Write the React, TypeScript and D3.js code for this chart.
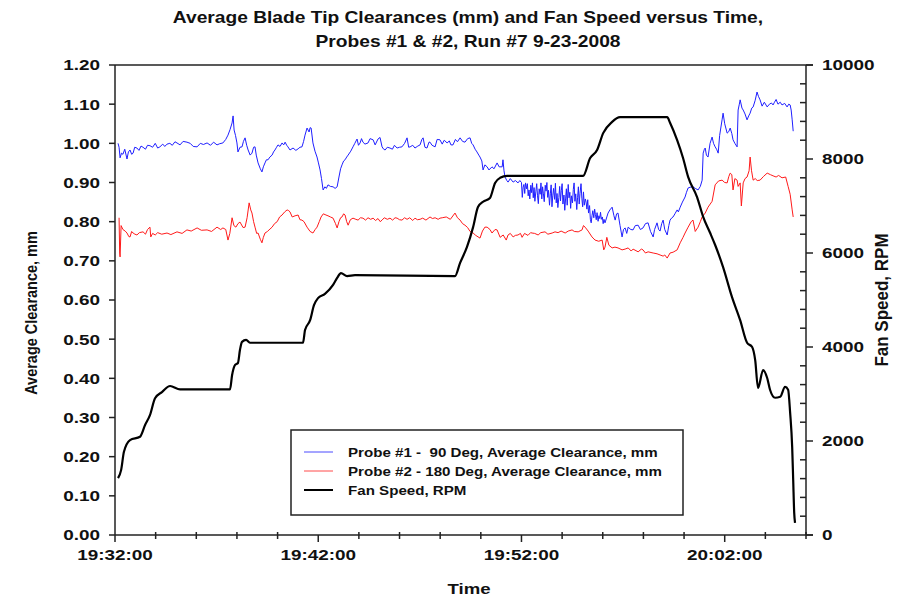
import React from "react";
import * as d3 from "d3";

// Time axis: minutes after 19:32:00 on 9-23-2008
const RUN_START = new Date(2008, 8, 23, 19, 32, 0);
const RUN_END = new Date(2008, 8, 23, 20, 6, 0);
const timeTickMinutes = [0, 10, 20, 30];
const clearanceTicks = [0, 0.1, 0.2, 0.3, 0.4, 0.5, 0.6, 0.7, 0.8, 0.9, 1.0, 1.1, 1.2];
const rpmTicks = [0, 2000, 4000, 6000, 8000, 10000];

const titleLines = [
  "Average Blade Tip Clearances (mm) and Fan Speed versus Time,",
  "Probes #1 & #2, Run #7 9-23-2008",
];
const legendLabels = [
  "Probe #1 -  90 Deg, Average Clearance, mm",
  "Probe #2 - 180 Deg, Average Clearance, mm",
  "Fan Speed, RPM",
];

// [minutes, clearance mm]
const probe1: [number, number][] = [
  [0.15, 1.0], [0.2, 0.99], [0.25, 0.963], [0.32, 0.975], [0.39, 0.972], [0.48, 0.985], [0.59, 0.96], [0.66, 0.978],
  [0.74, 0.983], [0.82, 0.972], [0.89, 0.975], [0.97, 0.99], [1.08, 0.988], [1.18, 0.982], [1.28, 0.993], [1.38, 0.99],
  [1.5, 0.985], [1.6, 0.995], [1.72, 0.994], [1.85, 0.99], [1.98, 1.0], [2.1, 0.988], [2.21, 0.991], [2.35, 0.998],
  [2.45, 0.992], [2.56, 0.998], [2.7, 1.0], [2.82, 0.995], [2.95, 1.004], [3.05, 1.001], [3.2, 0.996], [3.35, 1.005],
  [3.54, 1.003], [3.7, 1.0], [3.85, 0.992], [4.04, 0.991], [4.2, 1.0], [4.35, 0.997], [4.53, 1.001], [4.7, 0.995],
  [4.85, 1.003], [5.02, 0.996], [5.15, 0.999], [5.31, 1.001], [5.45, 1.01], [5.56, 1.021], [5.66, 1.035], [5.76, 1.052],
  [5.81, 1.07], [5.86, 1.034], [5.93, 1.02], [6.0, 1.001], [6.05, 0.978], [6.15, 0.99], [6.25, 0.991], [6.32, 1.005],
  [6.4, 1.014], [6.48, 0.995], [6.55, 0.983], [6.65, 0.97], [6.74, 0.975], [6.82, 0.99], [6.89, 0.991], [6.95, 0.97],
  [7.04, 0.95], [7.15, 0.935], [7.23, 0.927], [7.3, 0.94], [7.38, 0.95], [7.45, 0.958], [7.53, 0.958], [7.62, 0.965],
  [7.73, 0.97], [7.8, 0.978], [7.87, 0.983], [7.95, 0.99], [8.02, 0.996], [8.12, 0.992], [8.22, 1.001], [8.3, 0.996],
  [8.37, 1.003], [8.45, 0.995], [8.51, 0.991], [8.61, 0.983], [8.76, 0.988], [8.9, 0.982], [9.01, 0.986], [9.1, 0.99],
  [9.2, 0.991], [9.28, 1.005], [9.35, 1.021], [9.45, 1.039], [9.55, 1.029], [9.6, 1.04], [9.65, 1.039], [9.74, 1.001],
  [9.84, 0.98], [9.94, 0.965], [10.01, 0.95], [10.09, 0.932], [10.16, 0.91], [10.24, 0.881], [10.33, 0.889], [10.4, 0.885],
  [10.48, 0.894], [10.6, 0.89], [10.73, 0.889], [10.83, 0.885], [10.93, 0.889], [11.02, 0.914], [11.1, 0.935], [11.17, 0.945],
  [11.25, 0.955], [11.32, 0.958], [11.4, 0.965], [11.47, 0.97], [11.6, 0.98], [11.71, 0.991], [11.8, 1.0], [11.91, 1.011],
  [11.98, 0.995], [12.06, 1.001], [12.13, 1.012], [12.2, 1.003], [12.3, 0.998], [12.45, 1.001], [12.55, 1.012], [12.7, 1.009],
  [12.8, 0.996], [12.94, 1.011], [13.04, 1.015], [13.14, 0.991], [13.22, 0.985], [13.29, 0.983], [13.4, 0.99], [13.53, 0.988],
  [13.65, 0.985], [13.75, 0.995], [13.88, 0.988], [14.0, 0.99], [14.12, 0.991], [14.25, 1.0], [14.37, 1.014], [14.45, 0.99],
  [14.52, 0.991], [14.65, 0.995], [14.76, 0.988], [14.9, 0.993], [15.01, 0.996], [15.1, 1.01], [15.16, 1.014], [15.25, 0.99],
  [15.35, 0.988], [15.45, 1.003], [15.5, 1.003], [15.6, 0.995], [15.75, 0.991], [15.85, 1.01], [15.99, 1.009], [16.1, 0.998],
  [16.2, 1.008], [16.34, 1.001], [16.45, 1.006], [16.53, 0.996], [16.63, 0.996], [16.75, 1.01], [16.85, 1.004], [16.98, 1.014],
  [17.1, 1.005], [17.22, 1.003], [17.35, 1.012], [17.47, 1.014], [17.55, 1.0], [17.62, 0.996], [17.72, 0.985], [17.81, 0.978],
  [17.9, 0.97], [17.96, 0.965], [18.05, 0.955], [18.11, 0.932], [18.2, 0.945], [18.31, 0.94], [18.4, 0.932], [18.55, 0.94],
  [18.65, 0.935], [18.8, 0.95], [18.9, 0.94], [19.05, 0.94], [19.09, 0.958], [19.14, 0.93], [19.19, 0.914], [19.28, 0.905],
  [19.34, 0.901], [19.45, 0.91], [19.59, 0.901], [19.7, 0.905], [19.83, 0.899], [19.92, 0.905],
  [20.0, 0.9], [20.04, 0.862], [20.08, 0.888], [20.12, 0.895], [20.16, 0.872], [20.2, 0.899], [20.25, 0.884], [20.29, 0.897],
  [20.33, 0.866], [20.37, 0.881], [20.41, 0.858], [20.46, 0.893], [20.5, 0.874], [20.54, 0.899], [20.58, 0.861], [20.62, 0.887],
  [20.66, 0.852], [20.71, 0.878], [20.75, 0.897], [20.79, 0.866], [20.83, 0.846], [20.87, 0.884], [20.92, 0.87], [20.96, 0.899],
  [21.0, 0.858], [21.04, 0.889], [21.08, 0.871], [21.12, 0.851], [21.17, 0.893], [21.21, 0.878], [21.25, 0.9], [21.29, 0.862],
  [21.33, 0.88], [21.38, 0.842], [21.42, 0.871], [21.46, 0.894], [21.5, 0.838], [21.54, 0.866], [21.58, 0.885], [21.63, 0.857],
  [21.67, 0.898], [21.71, 0.848], [21.75, 0.872], [21.79, 0.836], [21.84, 0.862], [21.88, 0.89], [21.92, 0.853], [21.96, 0.879],
  [22.0, 0.897], [22.04, 0.845], [22.09, 0.868], [22.13, 0.829], [22.17, 0.858], [22.21, 0.884], [22.25, 0.842], [22.3, 0.895],
  [22.34, 0.861], [22.38, 0.875], [22.42, 0.834], [22.46, 0.866], [22.51, 0.848], [22.55, 0.882], [22.59, 0.899], [22.63, 0.852],
  [22.67, 0.871], [22.72, 0.831], [22.76, 0.861], [22.8, 0.889], [22.84, 0.845], [22.88, 0.872], [22.93, 0.897], [22.97, 0.86],
  [23.01, 0.838], [23.05, 0.876], [23.09, 0.842], [23.14, 0.858], [23.18, 0.85], [23.22, 0.832], [23.26, 0.856], [23.3, 0.822],
  [23.35, 0.841], [23.39, 0.806], [23.43, 0.797], [23.47, 0.815], [23.51, 0.828], [23.56, 0.81], [23.6, 0.832], [23.64, 0.818],
  [23.68, 0.805], [23.72, 0.823], [23.77, 0.801], [23.81, 0.815], [23.85, 0.808], [23.89, 0.824], [23.93, 0.806], [23.98, 0.812],
  [24.02, 0.795], [24.06, 0.806], [24.11, 0.797], [24.2, 0.812], [24.26, 0.822], [24.35, 0.83], [24.46, 0.837], [24.55, 0.815],
  [24.61, 0.804], [24.68, 0.82], [24.75, 0.822], [24.85, 0.79], [24.95, 0.761], [25.02, 0.78], [25.1, 0.784], [25.18, 0.77],
  [25.25, 0.786], [25.38, 0.78], [25.49, 0.779], [25.6, 0.79], [25.74, 0.791], [25.85, 0.78], [25.98, 0.784], [26.1, 0.795],
  [26.23, 0.797], [26.35, 0.775], [26.48, 0.761], [26.55, 0.78], [26.67, 0.797], [26.75, 0.78], [26.82, 0.776], [26.9, 0.795],
  [26.97, 0.804], [27.05, 0.78], [27.17, 0.766], [27.25, 0.79], [27.31, 0.804], [27.4, 0.81], [27.46, 0.812], [27.55, 0.82],
  [27.66, 0.83], [27.72, 0.825], [27.81, 0.837], [27.92, 0.85], [28.05, 0.863], [28.12, 0.875], [28.2, 0.886], [28.3, 0.888],
  [28.44, 0.889], [28.55, 0.885], [28.69, 0.881], [28.8, 0.89], [28.89, 0.906], [28.94, 0.975], [29.0, 0.985], [29.04, 0.988],
  [29.1, 0.97], [29.18, 0.965], [29.28, 1.0], [29.38, 1.016], [29.45, 1.0], [29.53, 0.991], [29.6, 0.985], [29.68, 0.975],
  [29.75, 1.02], [29.87, 1.06], [29.92, 1.077], [30.0, 1.05], [30.12, 1.026], [30.2, 1.03], [30.27, 1.039], [30.35, 1.025],
  [30.41, 1.009], [30.5, 1.0], [30.61, 0.991], [30.66, 1.085], [30.72, 1.1], [30.76, 1.111], [30.85, 1.09], [30.91, 1.085],
  [31.0, 1.075], [31.1, 1.06], [31.18, 1.07], [31.25, 1.077], [31.33, 1.09], [31.4, 1.093], [31.5, 1.11], [31.59, 1.131],
  [31.66, 1.12], [31.74, 1.111], [31.84, 1.095], [31.95, 1.105], [32.09, 1.093], [32.2, 1.1], [32.3, 1.103], [32.38, 1.098],
  [32.45, 1.105], [32.53, 1.112], [32.62, 1.1], [32.73, 1.105], [32.82, 1.098], [32.95, 1.102], [33.07, 1.093], [33.15, 1.1],
  [33.22, 1.098], [33.27, 1.085], [33.32, 1.06], [33.37, 1.031],
];

// [minutes, clearance mm]
const probe2: [number, number][] = [
  [0.2, 0.81], [0.23, 0.72], [0.25, 0.71], [0.3, 0.79], [0.39, 0.78], [0.5, 0.776], [0.59, 0.771], [0.68, 0.762],
  [0.74, 0.761], [0.82, 0.775], [0.89, 0.771], [0.98, 0.768], [1.08, 0.766], [1.2, 0.772], [1.38, 0.774], [1.5, 0.768],
  [1.6, 0.78], [1.72, 0.786], [1.76, 0.761], [1.85, 0.77], [1.98, 0.766], [2.1, 0.772], [2.3, 0.768], [2.56, 0.771],
  [2.75, 0.767], [3.05, 0.774], [3.3, 0.77], [3.54, 0.779], [3.75, 0.776], [4.04, 0.784], [4.25, 0.778], [4.53, 0.779],
  [4.75, 0.775], [5.02, 0.786], [5.2, 0.78], [5.31, 0.784], [5.45, 0.78], [5.56, 0.753], [5.65, 0.77], [5.76, 0.81],
  [5.85, 0.79], [5.95, 0.786], [6.05, 0.795], [6.15, 0.799], [6.3, 0.785], [6.4, 0.786], [6.5, 0.81], [6.6, 0.848],
  [6.68, 0.83], [6.74, 0.822], [6.82, 0.8], [6.89, 0.786], [6.97, 0.77], [7.04, 0.771], [7.15, 0.755], [7.23, 0.746],
  [7.3, 0.76], [7.38, 0.771], [7.5, 0.775], [7.58, 0.779], [7.73, 0.786], [7.85, 0.795], [7.98, 0.8], [8.1, 0.812],
  [8.22, 0.817], [8.35, 0.825], [8.47, 0.83], [8.55, 0.828], [8.61, 0.825], [8.72, 0.812], [8.86, 0.815], [9.01, 0.817],
  [9.1, 0.805], [9.2, 0.804], [9.3, 0.8], [9.45, 0.786], [9.6, 0.775], [9.74, 0.771], [9.85, 0.78], [9.94, 0.786],
  [10.05, 0.8], [10.14, 0.812], [10.25, 0.82], [10.38, 0.817], [10.48, 0.815], [10.6, 0.812], [10.73, 0.809], [10.85, 0.795],
  [10.93, 0.784], [11.02, 0.8], [11.1, 0.81], [11.17, 0.812], [11.25, 0.82], [11.32, 0.817], [11.4, 0.8], [11.47, 0.791],
  [11.58, 0.805], [11.71, 0.809], [11.85, 0.806], [11.96, 0.804], [12.08, 0.81], [12.2, 0.809], [12.33, 0.804], [12.45, 0.81],
  [12.58, 0.806], [12.7, 0.809], [12.82, 0.803], [12.94, 0.808], [13.05, 0.8], [13.14, 0.804], [13.25, 0.81], [13.4, 0.806],
  [13.53, 0.809], [13.66, 0.804], [13.78, 0.81], [13.88, 0.809], [14.0, 0.805], [14.12, 0.804], [14.25, 0.81], [14.37, 0.806],
  [14.5, 0.81], [14.65, 0.803], [14.76, 0.809], [14.88, 0.805], [15.01, 0.806], [15.14, 0.809], [15.3, 0.804], [15.5, 0.812],
  [15.62, 0.808], [15.75, 0.81], [15.9, 0.806], [15.99, 0.809], [16.1, 0.81], [16.3, 0.812], [16.5, 0.806], [16.73, 0.822],
  [16.85, 0.81], [16.98, 0.804], [17.1, 0.795], [17.22, 0.791], [17.35, 0.785], [17.47, 0.775], [17.62, 0.771], [17.75, 0.765],
  [17.96, 0.758], [18.08, 0.776], [18.2, 0.786], [18.31, 0.786], [18.45, 0.78], [18.55, 0.771], [18.7, 0.78], [18.8, 0.779],
  [18.95, 0.76], [19.1, 0.766], [19.25, 0.753], [19.34, 0.766], [19.45, 0.77], [19.59, 0.761], [19.7, 0.765], [19.83, 0.766],
  [19.95, 0.77], [20.03, 0.76], [20.15, 0.77], [20.32, 0.765], [20.45, 0.772], [20.52, 0.771], [20.65, 0.77], [20.82, 0.766],
  [20.95, 0.772], [21.16, 0.774], [21.3, 0.768], [21.51, 0.771], [21.65, 0.774], [21.8, 0.772], [21.95, 0.776], [22.15, 0.771],
  [22.3, 0.776], [22.49, 0.779], [22.6, 0.775], [22.79, 0.774], [22.98, 0.779], [23.05, 0.79], [23.13, 0.786], [23.28, 0.776],
  [23.47, 0.761], [23.62, 0.753], [23.8, 0.75], [23.97, 0.753], [24.05, 0.728], [24.11, 0.735], [24.2, 0.76], [24.3, 0.74],
  [24.46, 0.733], [24.6, 0.735], [24.75, 0.733], [24.95, 0.728], [25.1, 0.73], [25.25, 0.733], [25.4, 0.725], [25.49, 0.73],
  [25.74, 0.723], [25.9, 0.73], [25.98, 0.728], [26.1, 0.72], [26.23, 0.723], [26.48, 0.72], [26.67, 0.718], [26.82, 0.715],
  [26.97, 0.712], [27.05, 0.715], [27.17, 0.707], [27.31, 0.72], [27.46, 0.722], [27.66, 0.728], [27.81, 0.746], [27.95, 0.76],
  [28.05, 0.771], [28.2, 0.786], [28.35, 0.8], [28.44, 0.804], [28.55, 0.775], [28.69, 0.786], [28.8, 0.8], [28.89, 0.812],
  [29.04, 0.822], [29.18, 0.837], [29.38, 0.852], [29.53, 0.894], [29.7, 0.904], [29.87, 0.906], [30.0, 0.9], [30.12, 0.899],
  [30.2, 0.915], [30.27, 0.924], [30.35, 0.92], [30.41, 0.881], [30.5, 0.91], [30.61, 0.906], [30.66, 0.89], [30.76, 0.899],
  [30.82, 0.84], [30.91, 0.899], [31.0, 0.91], [31.1, 0.914], [31.2, 0.93], [31.25, 0.965], [31.32, 0.93], [31.4, 0.906],
  [31.5, 0.91], [31.6, 0.905], [31.74, 0.906], [31.9, 0.915], [32.09, 0.924], [32.25, 0.92], [32.38, 0.917], [32.53, 0.914],
  [32.65, 0.918], [32.82, 0.912], [33.0, 0.914], [33.12, 0.89], [33.22, 0.87], [33.32, 0.83], [33.37, 0.812],
];

// [minutes, RPM]
const fanSpeed: [number, number][] = [
  [0.15, 1210], [0.3, 1380], [0.44, 1770], [0.74, 2020], [1.23, 2090], [1.48, 2340], [1.72, 2550], [1.97, 2910],
  [2.31, 3040], [2.71, 3170], [3.2, 3100], [5.66, 3100], [5.76, 3400], [5.91, 3620], [6.05, 3660], [6.15, 3940],
  [6.25, 4110], [6.45, 4150], [6.64, 4090], [9.25, 4090], [9.35, 4360], [9.6, 4570], [9.79, 4890], [9.99, 5040],
  [10.33, 5130], [10.73, 5320], [10.93, 5470], [11.12, 5570], [11.42, 5510], [11.81, 5530], [16.73, 5510], [16.98, 5790],
  [17.32, 6130], [17.62, 6550], [17.86, 6980], [18.11, 7090], [18.45, 7170], [18.7, 7490], [18.95, 7600], [19.29, 7640],
  [23.03, 7640], [23.38, 8020], [23.72, 8190], [24.02, 8550], [24.46, 8790], [24.85, 8890], [27.17, 8890], [27.31, 8770],
  [27.66, 8400], [27.95, 8020], [28.2, 7620], [28.64, 7190], [28.94, 6770], [29.28, 6430], [29.53, 6170], [29.92, 5700],
  [30.36, 5060], [30.76, 4570], [31.1, 4090], [31.35, 4000], [31.5, 3720], [31.64, 3130], [31.89, 3510], [32.09, 3340],
  [32.23, 3090], [32.48, 2920], [32.73, 2940], [32.97, 3150], [33.12, 3090], [33.22, 2600], [33.32, 1870], [33.37, 1170],
  [33.42, 470], [33.46, 260],
];

const W = 903;
const H = 597;
const M = { left: 115, right: 806, top: 65, bottom: 535 };
const FONT = "'Liberation Sans', Arial, Helvetica, sans-serif";

const atMinute = (m: number) => new Date(RUN_START.getTime() + m * 60000);

const x = d3.scaleTime().domain([RUN_START, RUN_END]).range([M.left, M.right]);
const yClr = d3.scaleLinear().domain([0, 1.2]).range([M.bottom, M.top]);
const yRpm = d3.scaleLinear().domain([0, 10000]).range([M.bottom, M.top]);
const fmtTime = d3.timeFormat("%H:%M:%S");

const clrLine = d3
  .line<[number, number]>()
  .x((d) => x(atMinute(d[0])))
  .y((d) => yClr(d[1]));
const rpmLine = d3
  .line<[number, number]>()
  .x((d) => x(atMinute(d[0])))
  .y((d) => yRpm(d[1]))
  .curve(d3.curveMonotoneX);

type TProps = {
  x: number;
  y: number;
  size: number;
  sx?: number;
  anchor?: "start" | "middle" | "end";
  rotate?: boolean;
  baseline?: string;
  children: React.ReactNode;
};

function Label({ x, y, size, sx = 1, anchor = "start", rotate = false, baseline, children }: TProps) {
  return (
    <text
      transform={`translate(${x},${y}) scale(${sx},1)${rotate ? " rotate(-90)" : ""}`}
      fontSize={size}
      fontWeight="bold"
      fontFamily={FONT}
      textAnchor={anchor}
      dominantBaseline={baseline}
      fill="#111"
      xmlSpace="preserve"
      style={{ whiteSpace: "pre" }}
    >
      {children}
    </text>
  );
}

export default function App() {
  const minorTimes = d3.range(0, 35, 2).filter((m) => m % 10 !== 0);
  const minorRpm = d3.range(0, 10001, 400).filter((v) => v % 2000 !== 0);
  const TICK_SX = 1.22;

  return (
    <svg
      width={W}
      height={H}
      viewBox={`0 0 ${W} ${H}`}
      style={{ position: "absolute", left: 0, top: 0, background: "#fff" }}
    >
      <rect width={W} height={H} fill="#fff" />

      {titleLines.map((t, i) => (
        <Label key={t} x={468} y={23 + i * 24} size={16} sx={1.2} anchor="middle">
          {t}
        </Label>
      ))}

      {/* data */}
      <path d={clrLine(probe2) ?? ""} fill="none" stroke="#ff1a1a" strokeWidth={1} />
      <path d={clrLine(probe1) ?? ""} fill="none" stroke="#1f1fff" strokeWidth={1} />
      <path d={rpmLine(fanSpeed) ?? ""} fill="none" stroke="#000" strokeWidth={2.2} strokeLinejoin="round" />

      {/* frame */}
      <g stroke="#222" strokeWidth={1.5} fill="none">
        <line x1={M.left} x2={M.left} y1={M.top} y2={M.bottom} />
        <line x1={M.right} x2={M.right} y1={M.top} y2={M.bottom} />
        <line x1={M.left} x2={M.right + 7} y1={M.top} y2={M.top} />
        <line x1={M.left} x2={M.right + 7} y1={M.bottom} y2={M.bottom} />
      </g>

      {/* left axis */}
      <g stroke="#222" strokeWidth={1.5}>
        {clearanceTicks.map((v) => (
          <line key={v} x1={M.left - 6} x2={M.left} y1={yClr(v)} y2={yClr(v)} />
        ))}
      </g>
      {clearanceTicks.map((v) => (
        <Label key={v} x={100} y={yClr(v)} size={15.5} sx={TICK_SX} anchor="end" baseline="central">
          {v.toFixed(2)}
        </Label>
      ))}

      {/* right axis */}
      <g stroke="#222" strokeWidth={1.5}>
        {rpmTicks.map((v) => (
          <line key={v} x1={M.right} x2={M.right + 7} y1={yRpm(v)} y2={yRpm(v)} />
        ))}
        {minorRpm.map((v) => (
          <line key={v} x1={M.right - 6} x2={M.right} y1={yRpm(v)} y2={yRpm(v)} />
        ))}
      </g>
      {rpmTicks.map((v) => (
        <Label key={v} x={822} y={yRpm(v)} size={15.5} sx={TICK_SX} baseline="central">
          {String(v)}
        </Label>
      ))}

      {/* time axis */}
      <g stroke="#222" strokeWidth={1.5}>
        {timeTickMinutes.map((m) => (
          <line key={m} x1={x(atMinute(m))} x2={x(atMinute(m))} y1={M.bottom} y2={M.bottom + 7} />
        ))}
        {minorTimes.map((m) => (
          <line key={m} x1={x(atMinute(m))} x2={x(atMinute(m))} y1={M.bottom - 3} y2={M.bottom + 4} />
        ))}
      </g>
      {timeTickMinutes.map((m) => (
        <Label key={m} x={x(atMinute(m))} y={560} size={15.5} sx={TICK_SX} anchor="middle">
          {fmtTime(atMinute(m))}
        </Label>
      ))}

      {/* axis titles */}
      <Label x={469} y={594} size={15.5} sx={1.2} anchor="middle">
        Time
      </Label>
      <Label x={37} y={313} size={14.5} sx={1.15} anchor="middle" rotate>
        Average Clearance, mm
      </Label>
      <Label x={888} y={300} size={17} sx={1.05} anchor="middle" rotate>
        Fan Speed, RPM
      </Label>

      {/* legend */}
      <g>
        <rect x={291} y={430} width={392} height={85} fill="#fff" stroke="#222" strokeWidth={1.5} />
        {legendLabels.map((lab, i) => {
          const ly = 452 + i * 19;
          const color = ["#4a4aff", "#ff4a4a", "#000"][i];
          return (
            <g key={lab}>
              <line x1={304} x2={333} y1={ly} y2={ly} stroke={color} strokeWidth={i === 2 ? 2 : 1} />
              <Label x={348} y={ly} size={13.5} sx={1.12} baseline="central">
                {lab}
              </Label>
            </g>
          );
        })}
      </g>
    </svg>
  );
}
